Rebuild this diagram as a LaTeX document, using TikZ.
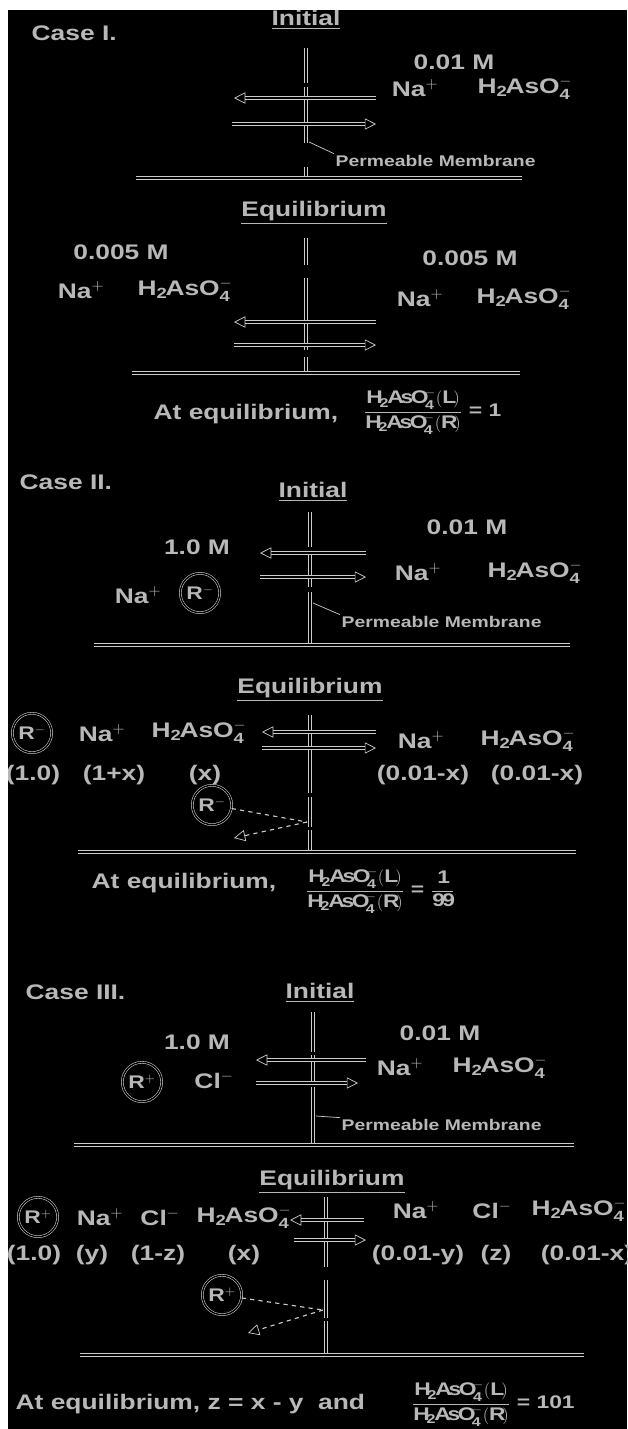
\documentclass[tikz,border=0pt]{standalone}
\usepackage{amsmath}
\usepackage{fontspec}
\setmainfont{Liberation Sans}[FakeStretch=1.25]
\usetikzlibrary{arrows.meta, positioning}

% ion labels
\newcommand{\na}{Na$^{+}$}
\newcommand{\ars}{H$_{\mathbf{2}}$AsO$_{\mathbf{4}}^{-}$}
\newcommand{\clion}{Cl$^{-}$}
\newcommand{\ratio}{$\dfrac{\mathbf{H_2AsO_4^{-}(L)}}{\mathbf{H_2AsO_4^{-}(R)}}$}

\begin{document}
\begin{tikzpicture}[x=0.025cm, y=-0.025cm,
  lbl/.style={text=white!72!black, font=\bfseries\fontsize{15}{17}\selectfont, inner sep=1pt},
  small/.style={text=white!72!black, font=\bfseries\fontsize{11}{13}\selectfont, inner sep=1pt},
  eqn/.style={text=white!72!black, font=\bfseries\fontsize{13}{15}\selectfont, inner sep=1pt, anchor=west},
  wall/.style={draw=white!80!black, line width=0.4pt, double=black, double distance=1.4pt},
  flow/.style={wall, -{Triangle[open, length=8pt, width=8pt, line width=0.5pt]}},
  ion/.style={circle, draw=white!80!black, line width=0.4pt, double=black, double distance=1pt,
    minimum size=28pt, inner sep=0pt, text=white!72!black, font=\bfseries\fontsize{13}{15}\selectfont},
  bounce/.style={draw=white!80!black, line width=0.8pt, dashed},
  leader/.style={draw=white!80!black, line width=0.5pt}]

  % page
  \useasboundingbox (0,0) rectangle (627,1429);
  \fill[black] (0,0) rectangle (627,1429);

  % ---------------- Case I, initial
  \node[lbl, anchor=west] (case1) at (30,33) {Case I.};
  \node[lbl] (ini1) at (306,20) {\underline{Initial}};
  \draw[wall] (306,48) -- (306,83);
  \draw[wall] (306,87) -- (306,143);
  \draw[wall] (306,167) -- (306,178);
  \node[lbl] (c1m) at (454,62) {0.01 M};
  \node[lbl] (c1na) at (415,88) {\na};
  \node[lbl] (c1as) at (525,88) {\ars};
  \coordinate (c1a) at (376,98);
  \coordinate (c1b) at (234,98);
  \coordinate (c1c) at (232,124);
  \coordinate (c1d) at (376,124);
  \draw[flow] (c1a) -- (c1b);
  \draw[flow] (c1c) -- (c1d);
  \node[small, anchor=west] (perm1) at (334,161) {Permeable Membrane};
  \coordinate (m1) at (309,142);
  \draw[leader] (m1) -- (perm1.north west);
  \draw[wall] (136,178) -- (522,178);

  % ---------------- Case I, equilibrium
  \node[lbl] (eq1) at (314,213) {\underline{Equilibrium}};
  \node[lbl] (e1ml) at (121,252) {0.005 M};
  \node[lbl] (e1nal) at (81,290) {\na};
  \node[lbl] (e1asl) at (185,290) {\ars};
  \node[lbl] (e1mr) at (470,258) {0.005 M};
  \node[lbl] (e1nar) at (420,298) {\na};
  \node[lbl] (e1asr) at (524,298) {\ars};
  \draw[wall] (306,238) -- (306,265);
  \draw[wall] (306,278) -- (306,350);
  \draw[wall] (306,357) -- (306,373);
  \coordinate (e1a) at (376,322);
  \coordinate (e1b) at (234,322);
  \coordinate (e1c) at (234,345);
  \coordinate (e1d) at (376,345);
  \draw[flow] (e1a) -- (e1b);
  \draw[flow] (e1c) -- (e1d);
  \draw[wall] (132,373) -- (520,373);
  \node[lbl, anchor=west] (at1) at (152,414) {At equilibrium,};
  \node[eqn] (r1) at (362,412) {\ratio\ = 1};

  % ---------------- Case II, initial
  \node[lbl, anchor=west] (case2) at (18,482) {Case II.};
  \node[lbl] (ini2) at (313,492) {\underline{Initial}};
  \draw[wall] (310,512) -- (310,547);
  \draw[wall] (310,552) -- (310,587);
  \draw[wall] (310,592) -- (310,645);
  \node[lbl] (c2ml) at (197,547) {1.0 M};
  \node[lbl] (c2nal) at (138,595) {\na};
  \node[ion] (c2r) at (200,593) {R$^{-}$};
  \node[lbl] (c2mr) at (467,527) {0.01 M};
  \node[lbl] (c2nar) at (418,572) {\na};
  \node[lbl] (c2asr) at (535,572) {\ars};
  \coordinate (c2a) at (366,553);
  \coordinate (c2b) at (260,553);
  \coordinate (c2c) at (260,577);
  \coordinate (c2d) at (366,577);
  \draw[flow] (c2a) -- (c2b);
  \draw[flow] (c2c) -- (c2d);
  \node[small, anchor=west] (perm2) at (340,622) {Permeable Membrane};
  \coordinate (m2) at (313,603);
  \draw[leader] (m2) -- (perm2.north west);
  \draw[wall] (94,645) -- (570,645);

  % ---------------- Case II, equilibrium
  \node[lbl] (eq2) at (310,690) {\underline{Equilibrium}};
  \node[ion] (e2r) at (32,733) {R$^{-}$};
  \node[lbl] (e2nal) at (102,733) {\na};
  \node[lbl] (e2asl) at (199,732) {\ars};
  \node[lbl] (e2nar) at (421,740) {\na};
  \node[lbl] (e2asr) at (528,740) {\ars};
  \node[lbl] (e2v1) at (33,775) {(1.0)};
  \node[lbl] (e2v2) at (114,775) {(1+x)};
  \node[lbl] (e2v3) at (205,775) {(x)};
  \node[lbl] (e2v4) at (423,775) {(0.01-x)};
  \node[lbl] (e2v5) at (537,775) {(0.01-x)};
  \draw[wall] (310,715) -- (310,793);
  \draw[wall] (310,797) -- (310,827);
  \draw[wall] (310,830) -- (310,852);
  \coordinate (e2a) at (376,732);
  \coordinate (e2b) at (262,732);
  \coordinate (e2c) at (262,748);
  \coordinate (e2d) at (376,748);
  \draw[flow] (e2a) -- (e2b);
  \draw[flow] (e2c) -- (e2d);
  \node[ion] (e2rb) at (212,805) {R$^{-}$};
  \coordinate (e2hit) at (307,822);
  \coordinate (e2back) at (234,838);
  \draw[bounce] (e2rb) -- (e2hit);
  \draw[bounce, -{Triangle[open, length=8pt, width=8pt, line width=0.5pt]}] (e2hit) -- (e2back);
  \draw[wall] (78,852) -- (576,852);
  \node[lbl, anchor=west] (at2) at (90,883) {At equilibrium,};
  \node[eqn] (r2) at (304,891) {\ratio\ = $\dfrac{\mathbf{1}}{\mathbf{99}}$};

  % ---------------- Case III, initial
  \node[lbl, anchor=west] (case3) at (24,992) {Case III.};
  \node[lbl] (ini3) at (320,993) {\underline{Initial}};
  \draw[wall] (313,1012) -- (313,1052);
  \draw[wall] (313,1055) -- (313,1083);
  \draw[wall] (313,1087) -- (313,1145);
  \node[lbl] (c3ml) at (197,1042) {1.0 M};
  \node[ion] (c3r) at (142,1082) {R$^{+}$};
  \node[lbl] (c3cl) at (214,1080) {\clion};
  \node[lbl] (c3mr) at (440,1033) {0.01 M};
  \node[lbl] (c3nar) at (400,1067) {\na};
  \node[lbl] (c3asr) at (500,1067) {\ars};
  \coordinate (c3a) at (366,1060);
  \coordinate (c3b) at (256,1060);
  \coordinate (c3c) at (256,1083);
  \coordinate (c3d) at (358,1083);
  \draw[flow] (c3a) -- (c3b);
  \draw[flow] (c3c) -- (c3d);
  \node[small, anchor=west] (perm3) at (340,1125) {Permeable Membrane};
  \coordinate (m3) at (316,1116);
  \draw[leader] (m3) -- (perm3.north west);
  \draw[wall] (74,1145) -- (574,1145);

  % ---------------- Case III, equilibrium
  \node[lbl] (eq3) at (332,1182) {\underline{Equilibrium}};
  \node[ion] (e3r) at (38,1217) {R$^{+}$};
  \node[lbl] (e3nal) at (100,1217) {\na};
  \node[lbl] (e3cll) at (160,1217) {\clion};
  \node[lbl] (e3asl) at (244,1217) {\ars};
  \node[lbl] (e3nar) at (416,1210) {\na};
  \node[lbl] (e3clr) at (492,1210) {\clion};
  \node[lbl] (e3asr) at (579,1210) {\ars};
  \node[lbl] (e3v1) at (34,1255) {(1.0)};
  \node[lbl] (e3v2) at (92,1255) {(y)};
  \node[lbl] (e3v3) at (158,1255) {(1-z)};
  \node[lbl] (e3v4) at (244,1255) {(x)};
  \node[lbl] (e3v5) at (418,1255) {(0.01-y)};
  \node[lbl] (e3v6) at (496,1255) {(z)};
  \node[lbl] (e3v7) at (587,1255) {(0.01-x)};
  \draw[wall] (326,1197) -- (326,1267);
  \draw[wall] (326,1280) -- (326,1318);
  \draw[wall] (326,1321) -- (326,1355);
  \coordinate (e3a) at (364,1220);
  \coordinate (e3b) at (290,1220);
  \coordinate (e3c) at (294,1240);
  \coordinate (e3d) at (366,1240);
  \draw[flow] (e3a) -- (e3b);
  \draw[flow] (e3c) -- (e3d);
  \node[ion] (e3rb) at (222,1295) {R$^{+}$};
  \coordinate (e3hit) at (323,1310);
  \coordinate (e3back) at (248,1333);
  \draw[bounce] (e3rb) -- (e3hit);
  \draw[bounce, -{Triangle[open, length=8pt, width=8pt, line width=0.5pt]}] (e3hit) -- (e3back);
  \draw[wall] (80,1355) -- (584,1355);
  \node[lbl, anchor=west] (at3) at (14,1404) {At equilibrium, z = x - y\ \ and};
  \node[eqn] (r3) at (410,1404) {\ratio\ = 101};

  % margins
  \fill[white] (0,0) rectangle (627,10);
  \fill[white] (0,0) rectangle (8,1429);
\end{tikzpicture}
\end{document}
